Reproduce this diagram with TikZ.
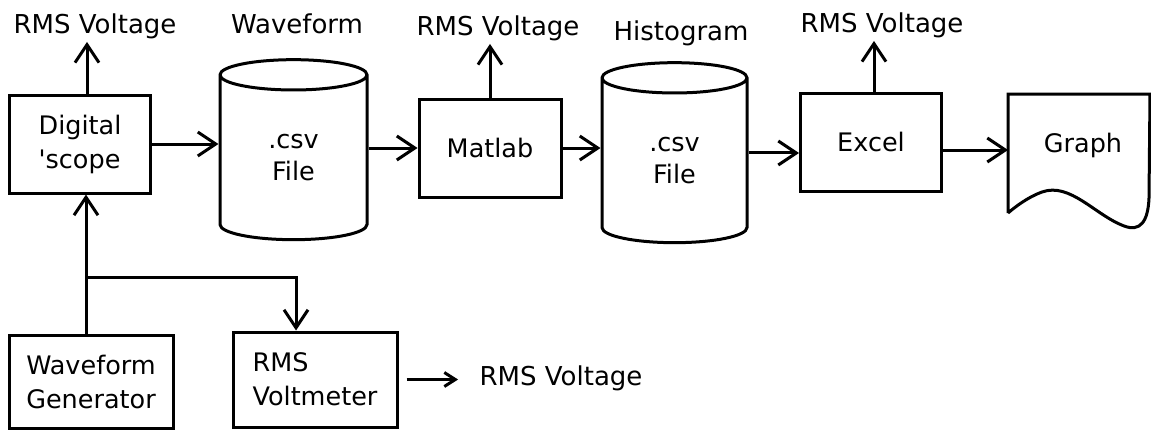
\documentclass[tikz,border=0pt]{standalone}
\usepackage{fontspec}
\setmainfont{DejaVu Sans}
\usetikzlibrary{arrows.meta,shapes.geometric}

\begin{document}
\begin{tikzpicture}[x=1pt, y=-1pt, line width=3pt,
    box/.style={draw, rectangle, align=left, inner sep=0pt,
                font=\fontsize{25.5}{34}\selectfont},
    store/.style={draw, cylinder, shape border rotate=90, aspect=0.6,
                  align=center, inner sep=0pt, minimum width=147pt,
                  minimum height=180pt, font=\fontsize{25.5}{32}\selectfont},
    lbl/.style={anchor=base, inner sep=2pt, font=\fontsize{26}{30}\selectfont},
    arr/.style={-{Straight Barb[length=18pt,width=24pt]}},
    arrsmall/.style={-{Straight Barb[length=11pt,width=14pt]}}]
      \useasboundingbox[fill=white] (0,0) rectangle (1151,431);
      % top row
      \node[box, minimum width=141pt, minimum height=98pt] (scope) at (80,144) {Digital\\\textquotesingle scope};
      \node[store] (csvA) at (293.5,158) {.csv\\File};
      \node[box, minimum width=142pt, minimum height=98pt] (matlab) at (490,148) {Matlab};
      \node[store, minimum width=145pt] (csvB) at (674.5,161) {.csv\\File};
      \node[box, minimum width=141pt, minimum height=98pt] (excel) at (871,142) {Excel};
      \node[font=\fontsize{25.5}{30}\selectfont] (graph) at (1083,145) {Graph};
      \coordinate (graphIn) at (1008,150);
      % labels above
      \node[lbl] (rmsScope) at (95,33) {RMS Voltage};
      \node[lbl] (wave) at (297,33) {Waveform};
      \node[lbl] (rmsMatlab) at (498,35) {RMS Voltage};
      \node[lbl] (hist) at (681,40) {Histogram};
      \node[lbl] (rmsExcel) at (882,32) {RMS Voltage};
      % bottom row
      \node[box, minimum width=164pt, minimum height=93pt] (gen) at (91,381.5) {Waveform\\Generator};
      \node[box, minimum width=164pt, minimum height=95pt] (meter) at (315,379.5) {RMS\\Voltmeter};
      \node[lbl] (rmsMeter) at (561,385) {RMS Voltage};
      \coordinate (split) at (86,277);
      \coordinate (knee) at (296,277);
      % graph sheet
      \draw (1008,213) -- (1008,94) -- (1150,94) -- (1149,198)
            .. controls (1148,222) and (1140,232) .. (1124,226)
            .. controls (1095,215) and (1070,182) .. (1042,192)
            .. controls (1028,197) and (1015,207) .. (1008,213);
      % connectors
      \draw[arr] (scope.east) -- (scope.east -| csvA.west);
      \draw[arr] (matlab.west -| csvA.east) -- (matlab.west);
      \draw[arr] (matlab.east) -- (matlab.east -| csvB.west);
      \draw[arr] ([yshift=8pt]csvB.east) -- ([yshift=8pt]csvB.east -| excel.west);
      \draw[arr] (graphIn -| excel.east) -- (graphIn);
      \draw[arr] ([xshift=7pt]scope.north) -- ([xshift=7pt]scope.north |- rmsScope.south);
      \draw[arr] (matlab.north) -- (matlab.north |- rmsMatlab.south);
      \draw[arr] ([xshift=3pt]excel.north) -- ([xshift=3pt]excel.north |- rmsExcel.south);
      \draw[arr] (gen.north -| split) -- (scope.south -| split);
      \draw[arr] (split) -- (knee) -- (meter.north -| knee);
      \draw[arrsmall, shorten <=8pt, shorten >=18pt] (meter.east) -- (meter.east -| rmsMeter.west);
\end{tikzpicture}
\end{document}
